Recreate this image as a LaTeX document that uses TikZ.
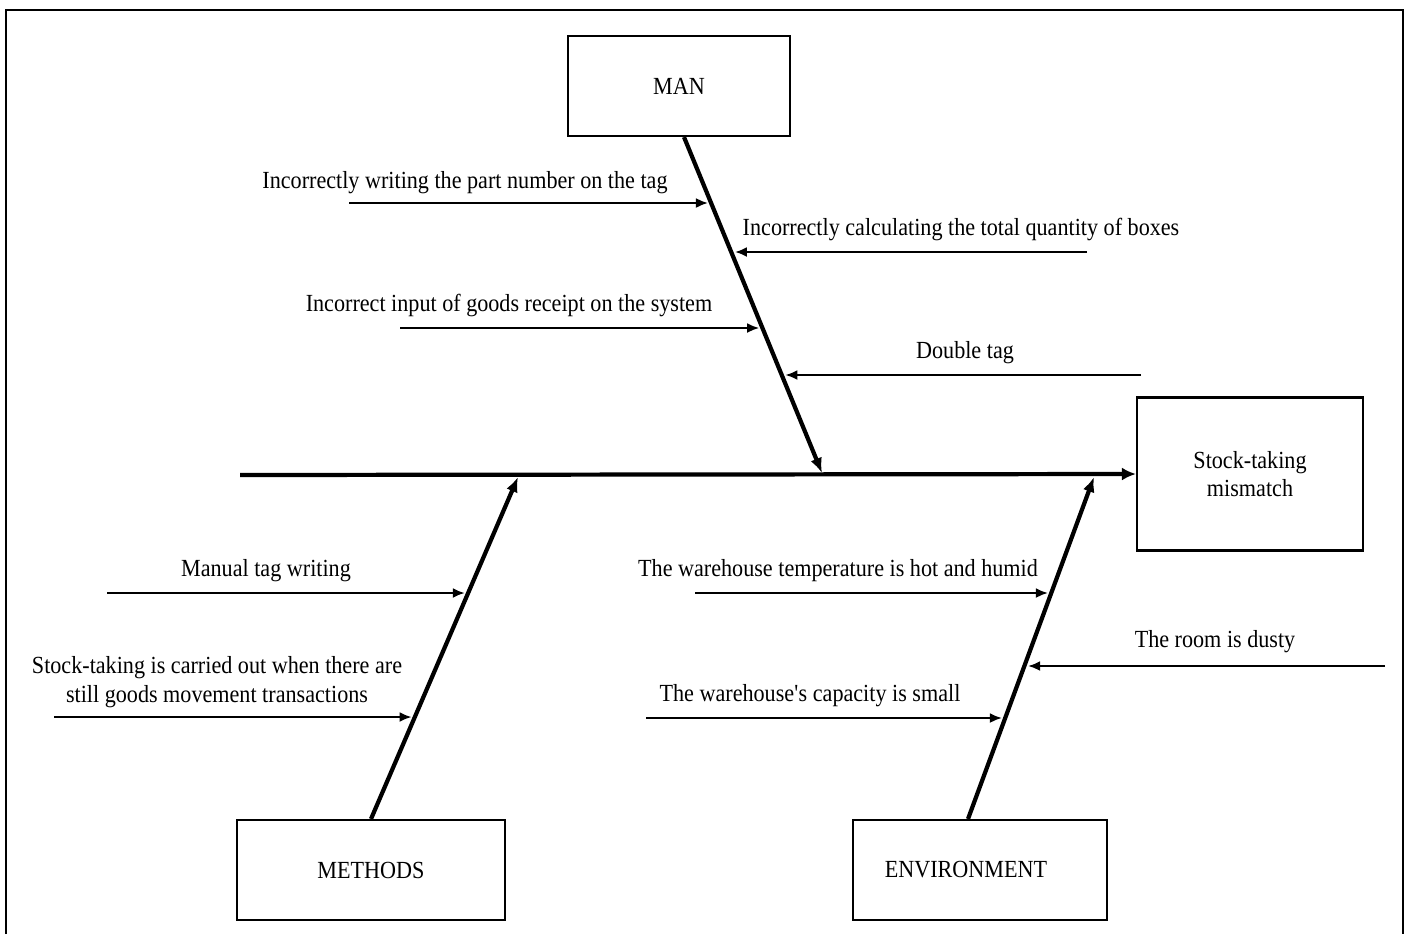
\documentclass[tikz,border=0pt]{standalone}
\usepackage{fontspec}
\setmainfont{Liberation Serif}[FakeStretch=0.9]
\usepackage{tikz}
\usetikzlibrary{arrows.meta, positioning, calc}

\begin{document}
\begin{tikzpicture}[
        every node/.style={font=\fontsize{7}{8.2}\selectfont},
        boxnode/.style={draw, rectangle, line width=0.6pt, minimum width=2.22cm, minimum height=1cm, align=center},
        bone/.style={line width=1.2pt, -{Latex[length=1.5mm, width=1.2mm]}},
        cause/.style={line width=0.6pt, -{Latex[length=1.2mm, width=1mm]}, shorten >=1pt},
        label/.style={inner sep=0pt, align=center}
    ]
    \useasboundingbox (0,0) rectangle (14.09,9.34);
    \draw[line width=0.8pt] (0.06,0) -- (0.06,9.24) -- (14.03,9.24) -- (14.03,0);

    % boxes
    \node[boxnode] (man) at (6.79,8.48) {MAN};
    \node[boxnode, minimum width=2.26cm, minimum height=1.53cm] (effect) at (12.50,4.60) {Stock-taking\\mismatch};
    \node[boxnode, minimum width=2.68cm] (methods) at (3.71,0.64) {METHODS};
    \node[boxnode, minimum width=2.54cm] (env) at (9.80,0.64) {ENVIRONMENT\hspace*{2.8mm}};

    % spine and bones
    \coordinate (s0) at (2.40,4.59);
    \draw[bone, -{Latex[length=1.4mm, width=1.3mm]}] (s0) -- (effect.west);
    \coordinate (m0) at ([xshift=0.5mm]man.south);
    \coordinate (m1) at (8.22,4.61);
    \coordinate (q0) at (methods.north);
    \coordinate (q1) at (5.18,4.57);
    \coordinate (e0) at ([xshift=-1.2mm]env.north);
    \coordinate (e1) at (10.94,4.57);
    \draw[bone] (m0) -- (m1);
    \draw[bone] (q0) -- (q1);
    \draw[bone] (e0) -- (e1);

    % points on the bones
    \coordinate (h1) at ($(m0)!0.199!(m1)$);
    \coordinate (h2) at ($(m0)!0.344!(m1)$);
    \coordinate (h3) at ($(m0)!0.570!(m1)$);
    \coordinate (h4) at ($(m0)!0.709!(m1)$);
    \coordinate (h5) at ($(q0)!0.662!(q1)$);
    \coordinate (h6) at ($(q0)!0.300!(q1)$);
    \coordinate (h7) at ($(e0)!0.662!(e1)$);
    \coordinate (h8) at ($(e0)!0.449!(e1)$);
    \coordinate (h9) at ($(e0)!0.297!(e1)$);

    % causes
    \coordinate (c1) at (3.49,7.31);
    \coordinate (c2) at (10.87,6.82);
    \coordinate (c3) at (4.00,6.06);
    \coordinate (c4) at (11.41,5.59);
    \coordinate (c5) at (1.07,3.41);
    \coordinate (c6) at (0.54,2.17);
    \coordinate (c7) at (6.95,3.41);
    \coordinate (c8) at (13.85,2.68);
    \coordinate (c9) at (6.46,2.16);
    \foreach \i in {1,...,9}
        \draw[cause] (c\i) -- (c\i -| h\i);

    \node[label] (t1) at (4.65,7.51) {Incorrectly writing the part number on the tag};
    \node[label] (t2) at (9.61,7.05) {Incorrectly calculating the total quantity of boxes};
    \node[label] (t3) at (5.09,6.29) {Incorrect input of goods receipt on the system};
    \node[label] (t4) at (9.65,5.81) {Double tag};
    \node[label] (t5) at (2.66,3.63) {Manual tag writing};
    \node[label] (t6) at (2.17,2.52) {Stock-taking is carried out when there are\\still goods movement transactions};
    \node[label] (t7) at (8.38,3.63) {The warehouse temperature is hot and humid};
    \node[label] (t8) at (12.15,2.92) {The room is dusty};
    \node[label] (t9) at (8.10,2.38) {The warehouse\textquotesingle s capacity is small};
\end{tikzpicture}
\end{document}
